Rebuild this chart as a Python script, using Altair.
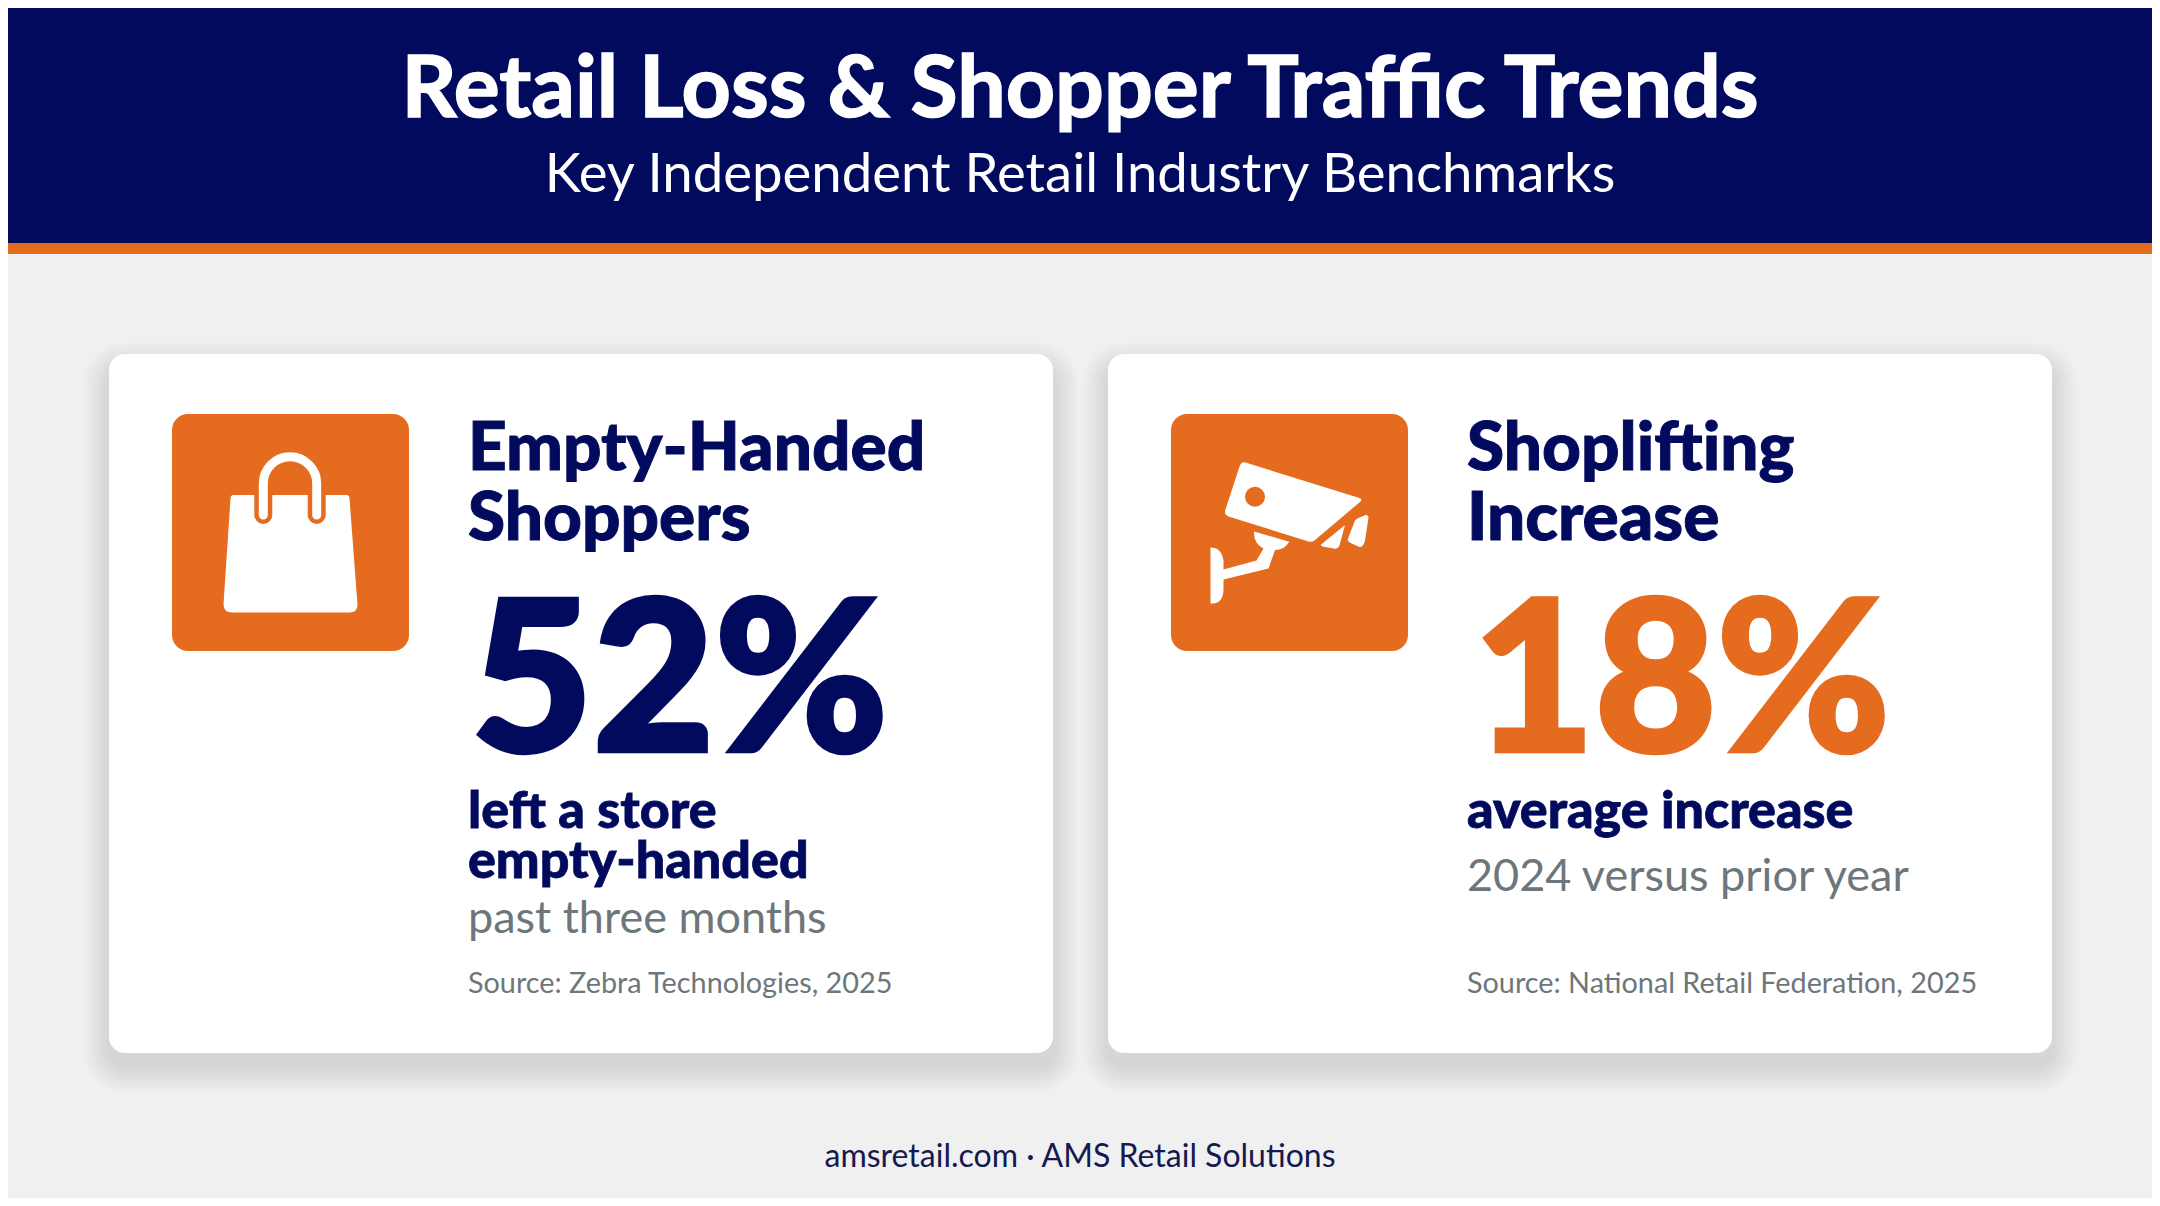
"""Retail loss and shopper traffic benchmarks, drawn as two stat cards."""

import altair as alt

NAVY = "#020A5E"
ORANGE = "#E56B1F"
BG = "#F0F0F0"
GREY = "#6D767B"
FONT = "Lato"

# text of the slide
title = "Retail Loss & Shopper Traffic Trends"
subtitle = "Key Independent Retail Industry Benchmarks"
footer = "amsretail.com · AMS Retail Solutions"
card_heads = [["Empty-Handed", "Shoppers"], ["Shoplifting", "Increase"]]
card_values = [52, 18]
card_bold = [["left a store", "empty-handed"], ["average increase"]]
card_notes = ["past three months", "2024 versus prior year"]
card_sources = ["Source: Zebra Technologies, 2025", "Source: National Retail Federation, 2025"]

# icon outlines, in pixels around the icon centre
BAG = "M-57,-37.5 Q-57,-37.5 -55,-37.5 L56,-37.5 Q59,-37.5 59,-34 L67,72 Q67,80 59,80 L-58,80 Q-67,80 -67,72 L-60,-34 Q-60,-37.5 -57,-37.5 Z"
HANDLE = "M-27.2,-17.5 V-49 A26.7,26.7 0 0 1 26.2,-49 V-17.5"
CAM_BODY = "M-44,-70 L70,-34.5 Q73,-33 71,-31 L25,8 Q22,10 19,9 L-61,-16 Q-66,-18 -64,-23 L-50,-66 Q-48,-71 -44,-70 Z"
CAM_BACK_A = "M31,12.5 L55.5,-7.5 L50,13 Q48,17 44,16 L33,14 Z"
CAM_BACK_B = "M58,7.5 L65,-11 Q66,-13 68,-14 L76,-17.5 Q79,-18 79,-15 L75.5,8 Q74,15 70,14.5 L60,10 Z"
CAM_MOUNT = (
    "M-35.5,-1 L-0.2,9.2 Q-5,17.5 -14.5,17.5 L-21,36 L-66,47 L-66,56 Q-66,70 -76,71 L-79,71 "
    "L-79,15 Q-68,15 -66,28 L-66,37 L-33,28 L-26,16 Q-36,11 -35.5,-1 Z"
)

one = alt.Data(values=[{}])


def px(v):
    # the page margin shifts the whole chart by 8px
    return alt.value(v - 8)


def box(x0, y0, x1, y1, color, radius=0, opacity=1):
    return alt.Chart(one).mark_rect(color=color, cornerRadius=radius, opacity=opacity).encode(
        x=px(x0), x2=px(x1), y=px(y0), y2=px(y1)
    )


def label(text, x, y, size, color, weight=400, align="left", thicken=0):
    # Lato Black is heavier than the installed bold, so the big text gets an outline
    extra = {"stroke": color, "strokeWidth": thicken} if thicken else {}
    return alt.Chart(alt.Data(values=[{"t": text}])).mark_text(
        font=FONT, fontSize=size, fontWeight=weight, color=color, align=align, baseline="alphabetic", **extra
    ).encode(x=px(x), y=px(y), text="t:N")


def shape(path, x, y, fill):
    return alt.Chart(one).mark_point(
        shape=path, size=4, filled=True, fill=fill, stroke=None, opacity=1
    ).encode(x=px(x), y=px(y))


def line(path, x, y, color, width):
    return alt.Chart(one).mark_point(
        shape=path, size=4, filled=False, stroke=color, strokeWidth=width, strokeCap="round", opacity=1
    ).encode(x=px(x), y=px(y))


def card(x0, i, value_color, value_x, icon):
    text_x = x0 + 359
    layers = []
    for spread in range(26, 0, -2):
        layers.append(box(x0 - spread, 354 - spread + 14, x0 + 944 + spread, 1053 + spread + 14, "#000000", 16 + spread, 0.009))
    layers.append(box(x0, 354, x0 + 944, 1053, "#FFFFFF", 16))
    layers.append(box(x0 + 63, 414, x0 + 300, 651, ORANGE, 16))
    layers += icon
    layers.append(label(card_heads[i][0], text_x, 470, 67.5, NAVY, 900, thicken=1))
    layers.append(label(card_heads[i][1], text_x, 540, 67.5, NAVY, 900, thicken=1))
    layers.append(label(f"{card_values[i]}%", value_x, 751, 210, value_color, 900, thicken=4.5))
    for j, t in enumerate(card_bold[i]):
        layers.append(label(t, text_x, 828 + 50 * j, 52, NAVY, 900, thicken=0.8))
    layers.append(label(card_notes[i], text_x, 933 if i == 0 else 891, 45, GREY))
    layers.append(label(card_sources[i], text_x, 993, 28.8, GREY))
    return layers


bag_x, cam_x, icon_y = 290.5, 1289.5, 532.5
bag_icon = [
    shape(BAG, bag_x, icon_y, "#FFFFFF"),
    line(HANDLE, bag_x, icon_y, ORANGE, 18),
    line(HANDLE, bag_x, icon_y, "#FFFFFF", 9),
]
cam_icon = [
    shape(CAM_BODY, cam_x, icon_y, "#FFFFFF"),
    shape(CAM_BACK_A, cam_x, icon_y, "#FFFFFF"),
    shape(CAM_BACK_B, cam_x, icon_y, "#FFFFFF"),
    shape(CAM_MOUNT, cam_x, icon_y, "#FFFFFF"),
    alt.Chart(one).mark_point(shape="circle", size=400, filled=True, fill=ORANGE, stroke=None, opacity=1).encode(
        x=px(cam_x - 34.5), y=px(icon_y - 35.8)
    ),
]

layers = [
    box(8, 8, 2152, 243, NAVY),
    box(8, 243, 2152, 254, ORANGE),
    label(title, 1080, 117, 86, "#FFFFFF", 700, "center", thicken=1.5),
    label(subtitle, 1080, 192, 54.5, "#FFFFFF", 400, "center"),
]
layers += card(109, 0, NAVY, 471, bag_icon)
layers += card(1108, 1, ORANGE, 1473, cam_icon)
layers.append(label(footer, 1080, 1167, 32, "#14194F", 400, "center"))

chart = (
    alt.layer(*layers)
    .properties(width=2144, height=1190, padding=0, background=BG)
    .configure_view(stroke=None)
)

chart.save("out.html", embed_options={"renderer": "svg", "actions": False})
